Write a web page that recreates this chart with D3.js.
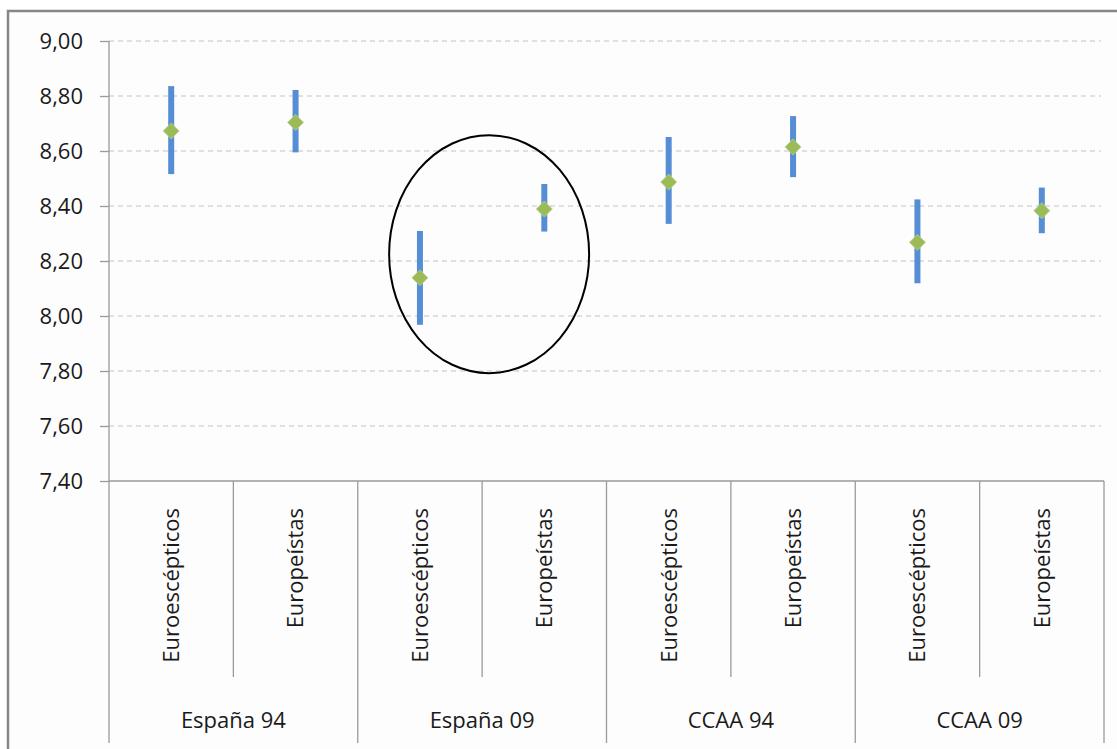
<!DOCTYPE html>
<html>
<head>
<meta charset="utf-8">
<script src="https://cdn.jsdelivr.net/npm/d3@7"></script>
<style>
  body { margin: 0; background: #fff; }
  text { font-family: "Open Sans", sans-serif; fill: #1a1a1a; }
</style>
</head>
<body>
<div id="chart"></div>
<script>
var width = 1117;
var height = 749;

// data
var groups = ["España 94", "España 09", "CCAA 94", "CCAA 09"];
var categories = ["Euroescépticos", "Europeístas", "Euroescépticos", "Europeístas",
                  "Euroescépticos", "Europeístas", "Euroescépticos", "Europeístas"];
var means = [8.673, 8.704, 8.139, 8.389, 8.487, 8.615, 8.268, 8.383];
var lows  = [8.516, 8.595, 7.968, 8.307, 8.335, 8.505, 8.119, 8.301];
var highs = [8.836, 8.822, 8.309, 8.480, 8.651, 8.727, 8.424, 8.467];
var yTicks = [7.4, 7.6, 7.8, 8.0, 8.2, 8.4, 8.6, 8.8, 9.0];

var plotLeft = 109, plotRight = 1104, plotTop = 41, plotBottom = 481;
var fontSize = "22px";

var svg = d3.select("#chart").append("svg")
    .attr("width", width)
    .attr("height", height);

// outer frame
svg.append("rect")
    .attr("x", 8)
    .attr("y", 11)
    .attr("width", 1130)
    .attr("height", 760)
    .attr("fill", "#fdfdfd")
    .attr("stroke", "#878787")
    .attr("stroke-width", 2.5);

var x = d3.scaleBand()
    .domain(d3.range(categories.length))
    .range([plotLeft, plotRight]);

var y = d3.scaleLinear()
    .domain([7.4, 9.0])
    .range([plotBottom, plotTop]);

var comma = d3.formatLocale({decimal: ",", thousands: ".", grouping: [3], currency: ["", ""]}).format(".2f");

// gridlines
svg.append("g")
    .selectAll("line")
    .data(yTicks.slice(1))
    .enter()
    .append("line")
    .attr("x1", plotLeft)
    .attr("x2", plotRight - 3)
    .attr("y1", function(d) { return y(d); })
    .attr("y2", function(d) { return y(d); })
    .attr("stroke", "#c4c4c4")
    .attr("stroke-width", 1.2)
    .attr("stroke-dasharray", "5,4");

// y axis
var yAxis = svg.append("g")
    .attr("transform", "translate(" + plotLeft + ",0)")
    .call(d3.axisLeft(y).tickValues(yTicks).tickFormat(comma).tickSize(9).tickPadding(17));

yAxis.select(".domain").remove();
yAxis.selectAll("line").attr("stroke", "#9a9a9a").attr("stroke-width", 1.3);
yAxis.selectAll("text")
    .attr("font-size", fontSize)
    .attr("font-family", "Open Sans, sans-serif")
    .attr("fill", "#1a1a1a");

// axis line, extends down into the label table
svg.append("line")
    .attr("x1", plotLeft)
    .attr("x2", plotLeft)
    .attr("y1", plotTop)
    .attr("y2", 743)
    .attr("stroke", "#9a9a9a")
    .attr("stroke-width", 1.3);

svg.append("line")
    .attr("x1", plotLeft)
    .attr("x2", plotRight)
    .attr("y1", plotBottom)
    .attr("y2", plotBottom)
    .attr("stroke", "#9a9a9a")
    .attr("stroke-width", 1.3);

// separators between categories (short) and groups (long)
svg.append("g")
    .selectAll("line")
    .data(d3.range(1, categories.length + 1))
    .enter()
    .append("line")
    .attr("x1", function(d) { return x(d - 1) + x.bandwidth(); })
    .attr("x2", function(d) { return x(d - 1) + x.bandwidth(); })
    .attr("y1", plotBottom)
    .attr("y2", function(d) { return d % 2 === 0 ? 743 : 677; })
    .attr("stroke", "#9a9a9a")
    .attr("stroke-width", 1.3);

// category labels
svg.append("g")
    .selectAll("text")
    .data(categories)
    .enter()
    .append("text")
    .attr("transform", function(d, i) {
        return "translate(" + (x(i) + x.bandwidth() / 2) + ",508) rotate(-90)";
    })
    .attr("text-anchor", "end")
    .attr("dy", "0.36em")
    .attr("font-size", fontSize)
    .text(function(d) { return d; });

// group labels
svg.append("g")
    .selectAll("text")
    .data(groups)
    .enter()
    .append("text")
    .attr("x", function(d, i) { return x(i * 2) + x.bandwidth(); })
    .attr("y", 720)
    .attr("text-anchor", "middle")
    .attr("dy", "0.36em")
    .attr("font-size", fontSize)
    .text(function(d) { return d; });

// error bars
svg.append("g")
    .selectAll("line")
    .data(means)
    .enter()
    .append("line")
    .attr("x1", function(d, i) { return x(i) + x.bandwidth() / 2; })
    .attr("x2", function(d, i) { return x(i) + x.bandwidth() / 2; })
    .attr("y1", function(d, i) { return y(highs[i]); })
    .attr("y2", function(d, i) { return y(lows[i]); })
    .attr("stroke", "#558ed5")
    .attr("stroke-width", 6);

// diamond markers
svg.append("g")
    .selectAll("path")
    .data(means)
    .enter()
    .append("path")
    .attr("transform", function(d, i) {
        return "translate(" + (x(i) + x.bandwidth() / 2) + "," + y(d) + ")";
    })
    .attr("d", "M0,-8L8,0L0,8L-8,0Z")
    .attr("fill", "#9bbb59")
    .attr("stroke", "#b9d08f")
    .attr("stroke-width", 0.8);

// highlight ellipse around España 09
svg.append("ellipse")
    .attr("cx", x(3) + 7)
    .attr("cy", y(8.225))
    .attr("rx", 100)
    .attr("ry", 119)
    .attr("fill", "none")
    .attr("stroke", "#000")
    .attr("stroke-width", 2);
</script>
</body>
</html>
